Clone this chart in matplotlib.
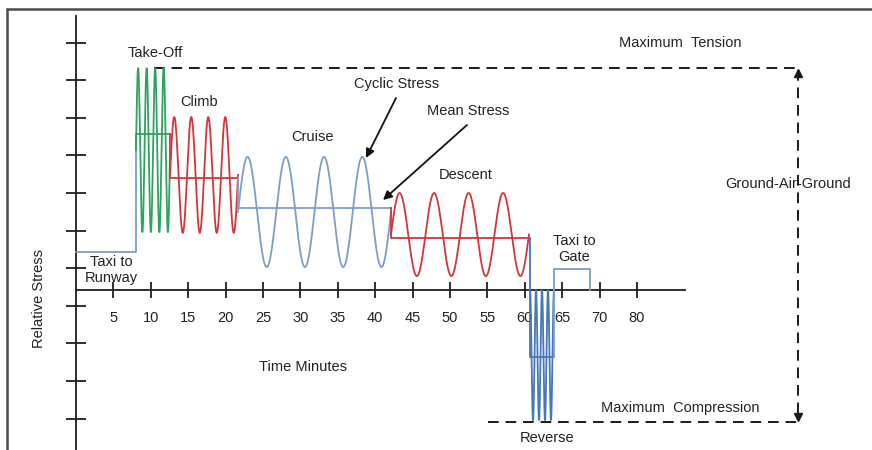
import numpy as np
import matplotlib
matplotlib.use("Agg")
import matplotlib.pyplot as plt
from matplotlib.patches import Rectangle

plt.rcParams['font.family'] = ['Liberation Sans', 'DejaVu Sans']

# ---------------- data ----------------
x_tick_pos = [5, 10, 15, 20, 25, 30, 35, 40, 45, 50, 55, 60, 65, 70, 75]
x_tick_labels = ["5", "10", "15", "20", "25", "30", "35", "40", "45",
                 "50", "55", "60", "65", "70", "80"]
y_tick_pos = [-3.42, -2.42, -1.42, -0.42, 0.58, 1.58, 2.58, 3.58, 4.58, 5.58, 6.58]

phase_names = ["Take-Off", "Climb", "Cruise", "Descent", "Reverse"]
phase_start = [8.02, 12.57, 21.66, 42.11, 60.70]
phase_end = [12.57, 21.66, 42.11, 60.56, 63.90]
phase_peak = [5.90, 4.60, 3.54, 2.58, 0.0]
phase_trough = [1.54, 1.52, 0.61, 0.37, -3.46]
phase_mean = [4.15, 2.98, 2.18, 1.38, -1.78]
phase_cycles = [4, 4, 4, 4, 4]
phase_offset = [0.0, 0.0, 0.0, 0.0, 0.25]
phase_colors = ["#2fa35e", "#d2353a", "#7a9fc6", "#d2353a", "#4676bb"]

taxi_runway_t = [0.0, 8.02]
taxi_runway_level = 1.0
taxi_gate_t = [63.90, 68.72]
taxi_gate_level = 0.56
taxi_color = "#7a9fc6"

max_tension = 5.90
max_compression = -3.51
tension_start = 10.43
compression_start = 55.1
range_t = 96.5

# ---------------- figure ----------------
fig = plt.figure(figsize=(8.72, 4.5), dpi=100)
ax = fig.add_axes([0, 0, 1, 1])
ax.set_xlim(-76 / 7.48, (872 - 76) / 7.48)
ax.set_ylim((290 - 450) / 37.6, 290 / 37.6)
ax.patch.set_alpha(0)

# frame
fig.add_artist(Rectangle((7 / 872, -0.2), 2.0, (441 / 450) + 0.2,
                         transform=fig.transFigure, fill=False,
                         edgecolor="#4a4a4a", linewidth=1.8, clip_on=False))

axis_col = "#1e1e1e"
for side in ["top", "right"]:
    ax.spines[side].set_visible(False)
ax.spines["left"].set_position(("data", 0))
ax.spines["bottom"].set_position(("data", 0))
ax.spines["left"].set_bounds(-4.4, 7.29)
ax.spines["bottom"].set_bounds(0, 81.4)
for side in ["left", "bottom"]:
    ax.spines[side].set_color(axis_col)
    ax.spines[side].set_linewidth(1.3)
    ax.spines[side].set_zorder(1)

ax.set_xticks(x_tick_pos)
ax.set_xticklabels(x_tick_labels)
ax.set_yticks(y_tick_pos)
ax.set_yticklabels([])
ax.tick_params(axis="x", direction="inout", length=12.2, width=1.3,
               color=axis_col, labelsize=10.5, labelcolor="#222222", pad=9)
ax.tick_params(axis="y", direction="inout", length=13.7, width=1.3,
               color=axis_col)

lw = 1.3

# taxi to runway
centers = [(p + t) / 2 for p, t in zip(phase_peak, phase_trough)]
ax.plot([taxi_runway_t[0], taxi_runway_t[1], taxi_runway_t[1]],
        [taxi_runway_level, taxi_runway_level, centers[0]],
        color=taxi_color, lw=lw, zorder=3)

# waves and mean lines
prev_level = centers[0]
for i in range(len(phase_names)):
    t = np.linspace(phase_start[i], phase_end[i], 600)
    frac = phase_cycles[i] * (t - phase_start[i]) / (phase_end[i] - phase_start[i]) + phase_offset[i]
    amp = (phase_peak[i] - phase_trough[i]) / 2
    y = centers[i] + amp * np.sin(2 * np.pi * frac)
    ax.plot(t, y, color=phase_colors[i], lw=lw, zorder=3)
    ax.plot([phase_start[i], phase_start[i], phase_end[i]],
            [prev_level, phase_mean[i], phase_mean[i]],
            color=phase_colors[i], lw=lw, zorder=3)
    prev_level = phase_mean[i]

# taxi to gate
ax.plot([taxi_gate_t[0], taxi_gate_t[0], taxi_gate_t[1], taxi_gate_t[1]],
        [prev_level, taxi_gate_level, taxi_gate_level, 0],
        color=taxi_color, lw=lw, zorder=3)

# dashed range lines
dash_kw = dict(color="#1a1a1a", lw=1.4, dashes=(5.5, 3.5), zorder=2)
ax.plot([tension_start, range_t], [max_tension, max_tension], **dash_kw)
ax.plot([compression_start, range_t], [max_compression, max_compression], **dash_kw)
ax.plot([range_t, range_t], [max_tension - 0.05, max_compression + 0.05], **dash_kw)
ax.plot([range_t], [max_tension - 0.12], marker="^", ms=6, color="#1a1a1a", zorder=4)
ax.plot([range_t], [max_compression + 0.12], marker="v", ms=6, color="#1a1a1a", zorder=4)


def px(x, y):
    return ((x - 76) / 7.48, (290 - y) / 37.6)


txt_kw = dict(fontsize=10.5, color="#222222", ha="center", va="center")
ax.text(*px(155, 53), "Take-Off", **txt_kw)
ax.text(*px(199, 102), "Climb", **txt_kw)
ax.text(*px(312, 137), "Cruise", **txt_kw)
ax.text(*px(397, 84), "Cyclic Stress", **txt_kw)
ax.text(*px(468, 111), "Mean Stress", **txt_kw)
ax.text(*px(466, 175), "Descent", **txt_kw)
ax.text(*px(111, 270), "Taxi to\nRunway", linespacing=1.15, **txt_kw)
ax.text(*px(574, 249), "Taxi to\nGate", linespacing=1.15, **txt_kw)
ax.text(*px(303, 367), "Time Minutes", **txt_kw)
ax.text(*px(39, 298), "Relative Stress", rotation=90, **txt_kw)
ax.text(*px(680, 43), "Maximum  Tension", **txt_kw)
ax.text(*px(788, 184), "Ground-Air-Ground", **txt_kw)
ax.text(*px(680, 408), "Maximum  Compression", **txt_kw)
ax.text(*px(547, 438), "Reverse", **txt_kw)

arrow_kw = dict(arrowstyle="-|>", color="#111111", lw=1.3,
                mutation_scale=13, shrinkA=0, shrinkB=0)
ax.annotate("", xy=px(366, 158), xytext=px(396, 98), arrowprops=arrow_kw)
ax.annotate("", xy=px(383, 200), xytext=px(467, 125), arrowprops=arrow_kw)

fig.savefig("out.png", dpi=100)
